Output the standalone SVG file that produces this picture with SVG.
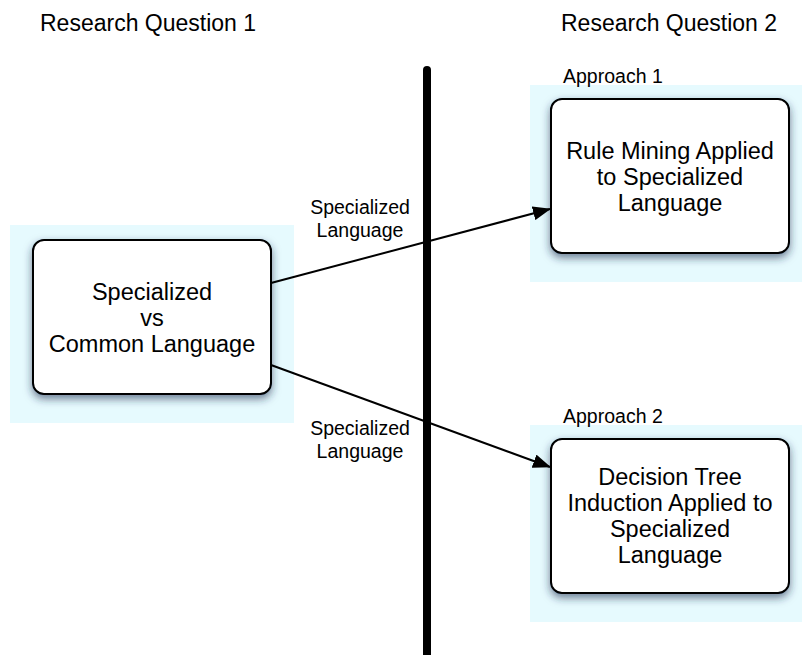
<svg xmlns="http://www.w3.org/2000/svg" width="802" height="655" viewBox="0 0 802 655">
<defs>
<style>
.bg{fill:#e6fafe;}
.box{fill:#ffffff;stroke:#000000;stroke-width:2;}
.t{font-family:"Liberation Sans",Arial,Helvetica,sans-serif;fill:#000000;}
.bt{font-size:23.5px;text-anchor:middle;}
.hd{font-size:23px;}
.lb{font-size:19.5px;text-anchor:middle;}
.ap{font-size:19.5px;}
.conn{stroke:#000000;stroke-width:2;fill:none;}
</style>
<filter id="sh" x="-20%" y="-20%" width="140%" height="150%">
<feDropShadow dx="0" dy="4" stdDeviation="4" flood-color="#1a2a50" flood-opacity="0.6"/>
</filter>
<marker id="ah" markerWidth="18" markerHeight="14" refX="17" refY="7" orient="auto" markerUnits="userSpaceOnUse">
<path d="M0,0 L18,7 L0,14 Z" fill="#000000"/>
</marker>
</defs>
<rect width="802" height="655" fill="#ffffff"/>
<text class="t hd" x="40" y="31">Research Question 1</text>
<text class="t hd" x="561" y="31">Research Question 2</text>
<g id="node-common">
<rect class="bg" x="10" y="225" width="284" height="198"/>
<rect class="box" x="33" y="240" width="238" height="154" rx="11" filter="url(#sh)"/>
<text class="t bt" x="152" y="300">Specialized</text>
<text class="t bt" x="152" y="326">vs</text>
<text class="t bt" x="152" y="352">Common Language</text>
</g>
<g id="node-approach1">
<rect class="bg" x="530" y="85" width="272" height="197"/>
<text class="t ap" x="563" y="83">Approach 1</text>
<rect class="box" x="551" y="99" width="238" height="154" rx="11" filter="url(#sh)"/>
<text class="t bt" x="670" y="159">Rule Mining Applied</text>
<text class="t bt" x="670" y="185">to Specialized</text>
<text class="t bt" x="670" y="211">Language</text>
</g>
<g id="node-approach2">
<rect class="bg" x="530" y="425" width="272" height="197"/>
<text class="t ap" x="563" y="423">Approach 2</text>
<rect class="box" x="551" y="439" width="238" height="154" rx="11" filter="url(#sh)"/>
<text class="t bt" x="670" y="485">Decision Tree</text>
<text class="t bt" x="670" y="511">Induction Applied to</text>
<text class="t bt" x="670" y="537">Specialized</text>
<text class="t bt" x="670" y="563">Language</text>
</g>
<g id="connectors">
<line class="conn" x1="271" y1="283" x2="550" y2="209" marker-end="url(#ah)"/>
<line class="conn" x1="271" y1="365" x2="550" y2="467" marker-end="url(#ah)"/>
<line x1="427" y1="70" x2="427" y2="660" stroke="#000000" stroke-width="8" stroke-linecap="round"/>
<text class="t lb" x="360" y="214">Specialized</text>
<text class="t lb" x="360" y="237">Language</text>
<text class="t lb" x="360" y="435">Specialized</text>
<text class="t lb" x="360" y="458">Language</text>
</g>
</svg>
